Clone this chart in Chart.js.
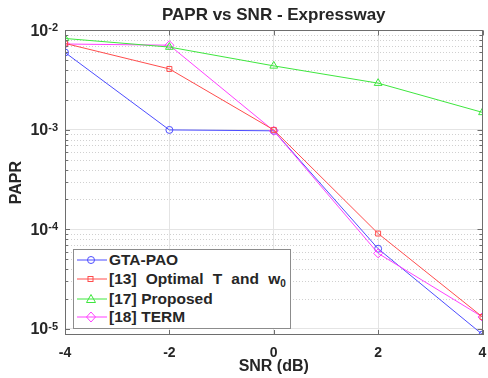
<!DOCTYPE html>
<html>
<head>
<meta charset="utf-8">
<script src="https://cdn.jsdelivr.net/npm/chart.js@4/dist/chart.umd.min.js"></script>
<style>
html, body { margin: 0; padding: 0; background: #fff; }
#wrap { position: relative; width: 488px; height: 378px; }
#legend {
    position: absolute; left: 73px; top: 249px; width: 216px; height: 78px;
    border: 1px solid #8c8c8c; background: #fff;
    font: bold 15.5px "Liberation Sans", Arial, sans-serif; color: #262626;
}
#legend .row { position: absolute; left: 0; height: 20px; display: flex; align-items: center; white-space: nowrap; }
#legend .txt { white-space: pre; word-spacing: 0.3px; }
#legend svg { margin-left: 3px; margin-right: 2px; }
#legend sub { font-size: 10px; vertical-align: -3px; }
</style>
</head>
<body>
<div id="wrap">
    <canvas id="chart" width="488" height="378"></canvas>
    <div id="legend">
        <div class="row" style="top:0px"><svg width="30" height="12"><line x1="0" y1="6" x2="30" y2="6" stroke="#4d4dff" stroke-width="1"/><circle cx="14" cy="6" r="3.5" fill="none" stroke="#4d4dff"/></svg><span class="txt">GTA-PAO</span></div>
        <div class="row" style="top:19px"><svg width="30" height="12"><line x1="0" y1="6" x2="30" y2="6" stroke="#ff4d4d" stroke-width="1"/><rect x="11" y="3.5" width="5" height="5" fill="none" stroke="#ff4d4d"/></svg><span class="txt">[13]  Optimal  T  and  w<sub>0</sub></span></div>
        <div class="row" style="top:39px"><svg width="30" height="12"><line x1="0" y1="6" x2="30" y2="6" stroke="#3ee63e" stroke-width="1"/><polygon points="14,1.5 18.5,9.5 9.5,9.5" fill="none" stroke="#3ee63e"/></svg><span class="txt">[17] Proposed</span></div>
        <div class="row" style="top:57px"><svg width="30" height="12"><line x1="0" y1="6" x2="30" y2="6" stroke="#ff40ff" stroke-width="1"/><polygon points="14,1 18.5,6 14,11 9.5,6" fill="none" stroke="#ff40ff"/></svg><span class="txt">[18] TERM</span></div>
    </div>
</div>
<script>
// SNR (dB)
const snr = [-4, -2, 0, 2, 4];

// PAPR per method
const gtaPao     = [6.0e-3, 1.0e-3, 0.98e-3, 6.4e-5, 0.88e-5];
const optimalT   = [7.4e-3, 4.1e-3, 1.0e-3, 9.1e-5, 1.32e-5];
const proposed17 = [8.3e-3, 6.8e-3, 4.4e-3, 2.95e-3, 1.5e-3];
const term18     = [7.3e-3, 7.1e-3, 0.98e-3, 5.75e-5, 1.32e-5];

// y axis decades and their exponents
const yTickValues = [1e-5, 1e-4, 1e-3, 1e-2];
const yTickExponents = ['-5', '-4', '-3', '-2'];
const xTickValues = [-4, -2, 0, 2, 4];

const FONT = '"Liberation Sans", Arial, sans-serif';
const TEXT = '#262626';

const pts = arr => snr.map((x, i) => ({ x: x, y: arr[i] }));

function serie(label, arr, color, style, radius) {
    return {
        label: label,
        data: pts(arr),
        borderColor: color,
        borderWidth: 1,
        pointStyle: style,
        pointRadius: radius,
        pointBorderColor: color,
        pointBackgroundColor: 'rgba(0,0,0,0)',
        pointBorderWidth: 1,
        tension: 0
    };
}

// moldura estilo MATLAB, grade menor pontilhada e rotulos 10^n
const matlabAxes = {
    id: 'matlabAxes',
    beforeDatasetsDraw(chart) {
        const { ctx, chartArea: a, scales: { y } } = chart;
        ctx.save();
        ctx.strokeStyle = '#d0d0d0';
        ctx.lineWidth = 1;
        ctx.setLineDash([1, 2]);
        yTickValues.forEach(dec => {
            for (let m = 2; m <= 9; m++) {
                const py = Math.round(y.getPixelForValue(dec * m / 10)) + 0.5;
                if (py <= a.top || py >= a.bottom) continue;
                ctx.beginPath();
                ctx.moveTo(a.left, py);
                ctx.lineTo(a.right, py);
                ctx.stroke();
            }
        });
        ctx.restore();
    },
    afterDatasetsDraw(chart) {
        const { ctx, chartArea: a, scales: { x, y } } = chart;
        ctx.save();
        ctx.strokeStyle = '#6e6e6e';
        ctx.lineWidth = 1;
        ctx.strokeRect(Math.round(a.left) + 0.5, Math.round(a.top) + 0.5,
            Math.round(a.right - a.left) - 1, Math.round(a.bottom - a.top) - 1);

        ctx.beginPath();
        xTickValues.forEach(v => {
            const px = Math.round(x.getPixelForValue(v)) + 0.5;
            ctx.moveTo(px, a.bottom); ctx.lineTo(px, a.bottom - 5);
            ctx.moveTo(px, a.top); ctx.lineTo(px, a.top + 5);
        });
        yTickValues.forEach(dec => {
            for (let m = 1; m <= 9; m++) {
                const v = m === 1 ? dec : dec * m / 10;
                const py = Math.round(y.getPixelForValue(v)) + 0.5;
                if (py < a.top || py > a.bottom) continue;
                const len = m === 1 ? 5 : 3;
                ctx.moveTo(a.left, py); ctx.lineTo(a.left + len, py);
                ctx.moveTo(a.right, py); ctx.lineTo(a.right - len, py);
            }
        });
        ctx.stroke();

        ctx.fillStyle = TEXT;
        yTickValues.forEach((v, i) => {
            const py = y.getPixelForValue(v);
            ctx.font = 'bold 11px ' + FONT;
            const ew = ctx.measureText(yTickExponents[i]).width;
            ctx.textAlign = 'left';
            ctx.textBaseline = 'alphabetic';
            ctx.fillText(yTickExponents[i], 58 - ew, py + 1);
            ctx.font = 'bold 16px ' + FONT;
            ctx.textAlign = 'right';
            ctx.textBaseline = 'middle';
            ctx.fillText('10', 58 - ew, py + 1);
        });
        ctx.restore();
    }
};

new Chart(document.getElementById('chart'), {
    type: 'line',
    data: {
        datasets: [
            serie('[17] Proposed', proposed17, '#3ee63e', 'triangle', 4.5),
            serie('[13] Optimal T and w0', optimalT, '#ff4d4d', 'rect', 3.5),
            serie('[18] TERM', term18, '#ff40ff', 'rectRot', 4.5),
            serie('GTA-PAO', gtaPao, '#4d4dff', 'circle', 3.5)
        ]
    },
    options: {
        responsive: false,
        animation: false,
        layout: { padding: { top: 2, right: 3, left: 0, bottom: 0 } },
        plugins: {
            legend: { display: false },
            tooltip: { enabled: false },
            title: {
                display: true,
                text: 'PAPR vs SNR - Expressway',
                fullSize: false,
                color: TEXT,
                font: { family: FONT, size: 17, weight: 'bold' },
                padding: { top: 3, bottom: 5 }
            }
        },
        scales: {
            x: {
                type: 'linear',
                min: -4,
                max: 4,
                afterBuildTicks: s => { s.ticks = xTickValues.map(v => ({ value: v })); },
                ticks: { color: TEXT, font: { family: FONT, size: 14, weight: 'bold' }, padding: 10 },
                grid: { color: '#e4e4e4', drawTicks: false },
                border: { display: false },
                title: {
                    display: true, text: 'SNR (dB)', color: TEXT,
                    font: { family: FONT, size: 16, weight: 'bold' },
                    padding: { top: 2, bottom: 2 }
                },
                afterFit: s => { s.height = 43; s.paddingLeft = 0; s.paddingRight = 0; }
            },
            y: {
                type: 'logarithmic',
                min: 0.87e-5,
                max: 1e-2,
                afterBuildTicks: s => { s.ticks = yTickValues.map(v => ({ value: v })); },
                ticks: { display: false },
                grid: { color: '#e4e4e4', drawTicks: false },
                border: { display: false },
                title: {
                    display: true, text: 'PAPR', color: TEXT,
                    font: { family: FONT, size: 16, weight: 'bold' },
                    padding: { top: 7, bottom: 2 }
                },
                afterFit: s => { s.width = 65; s.paddingTop = 0; s.paddingBottom = 0; }
            }
        }
    },
    plugins: [matlabAxes]
});
</script>
</body>
</html>
